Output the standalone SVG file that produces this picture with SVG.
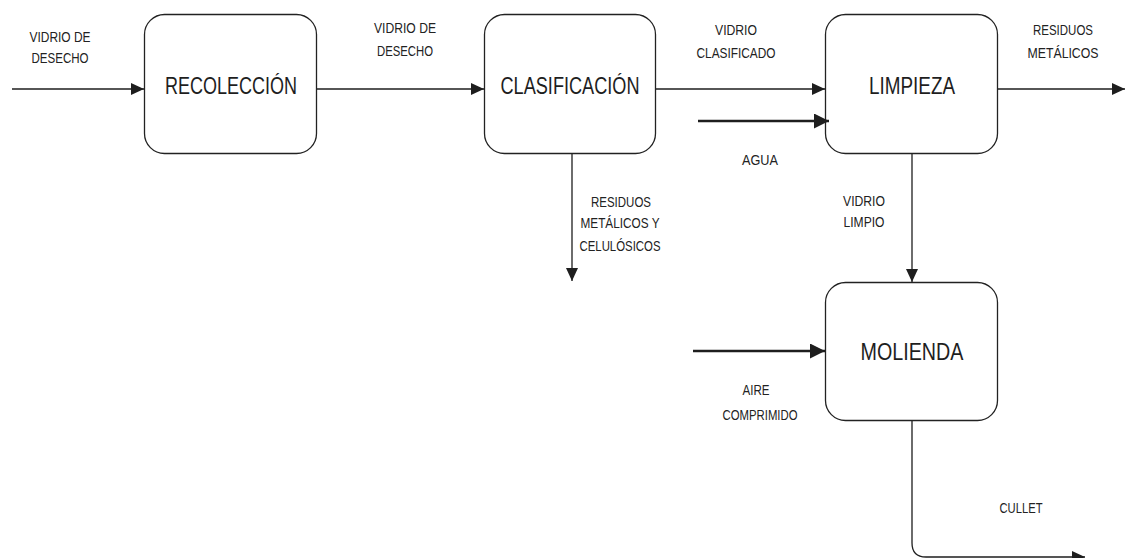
<svg xmlns="http://www.w3.org/2000/svg" width="1125" height="558" viewBox="0 0 1125 558">
<style>
.box{fill:#fff;stroke:#222;stroke-width:1.3}
.big{font-family:"Liberation Sans Narrow","Liberation Sans",Arial,sans-serif;font-size:24px;fill:#1e1e1e;text-anchor:middle}
.lbl{font-family:"Liberation Sans Narrow","Liberation Sans",Arial,sans-serif;font-size:15px;fill:#222;text-anchor:middle}
.ln{fill:none;stroke:#1e1e1e;stroke-width:1.3}
.thk{fill:none;stroke:#1e1e1e;stroke-width:2.6}
</style>
<defs>
<marker id="a" markerUnits="userSpaceOnUse" markerWidth="14" markerHeight="12" refX="13" refY="6" orient="auto"><path d="M0,0 L13,6 L0,12 Z" fill="#1e1e1e"/></marker>
<marker id="b" markerUnits="userSpaceOnUse" markerWidth="16" markerHeight="16" refX="15" refY="7.5" orient="auto"><path d="M0,0 L15,7.5 L0,15 Z" fill="#1e1e1e"/></marker>
</defs>
<g id="recoleccion"><rect class="box" x="144.5" y="14.5" width="172" height="139" rx="20"/><text class="big" x="231" y="94" textLength="132" lengthAdjust="spacingAndGlyphs">RECOLECCIÓN</text></g>
<g id="clasificacion"><rect class="box" x="484.5" y="14.5" width="171" height="139" rx="20"/><text class="big" x="570" y="94" textLength="139" lengthAdjust="spacingAndGlyphs">CLASIFICACIÓN</text></g>
<g id="limpieza"><rect class="box" x="825.5" y="14.5" width="172" height="139" rx="20"/><text class="big" x="912" y="94" textLength="86" lengthAdjust="spacingAndGlyphs">LIMPIEZA</text></g>
<g id="molienda"><rect class="box" x="825.5" y="282.5" width="172" height="138" rx="20"/><text class="big" x="912" y="360" textLength="103" lengthAdjust="spacingAndGlyphs">MOLIENDA</text></g>
<g id="connectors">
<path class="ln" d="M12,89 H144" marker-end="url(#a)"/>
<path class="ln" d="M317,89 H484" marker-end="url(#a)"/>
<path class="ln" d="M656,89 H825" marker-end="url(#a)"/>
<path class="thk" d="M698,121 H829" marker-end="url(#b)"/>
<path class="ln" d="M998,89 H1125" marker-end="url(#a)"/>
<path class="ln" d="M572,154 V281" marker-end="url(#a)"/>
<path class="ln" d="M912,154 V282" marker-end="url(#a)"/>
<path class="thk" d="M693,351 H825" marker-end="url(#b)"/>
<path class="ln" d="M912,421 V543 Q912,557 926,557 H1085" marker-end="url(#a)"/>
</g>
<g id="labels">
<text class="lbl" x="60" y="42" textLength="61" lengthAdjust="spacingAndGlyphs">VIDRIO DE</text><text class="lbl" x="60" y="63" textLength="57" lengthAdjust="spacingAndGlyphs">DESECHO</text>
<text class="lbl" x="405" y="33" textLength="62" lengthAdjust="spacingAndGlyphs">VIDRIO DE</text><text class="lbl" x="405" y="56" textLength="56" lengthAdjust="spacingAndGlyphs">DESECHO</text>
<text class="lbl" x="736" y="35" textLength="42" lengthAdjust="spacingAndGlyphs">VIDRIO</text><text class="lbl" x="736" y="58" textLength="79" lengthAdjust="spacingAndGlyphs">CLASIFICADO</text>
<text class="lbl" x="1063" y="35" textLength="60" lengthAdjust="spacingAndGlyphs">RESIDUOS</text><text class="lbl" x="1063" y="58" textLength="71" lengthAdjust="spacingAndGlyphs">METÁLICOS</text>
<text class="lbl" x="760" y="165" textLength="36" lengthAdjust="spacingAndGlyphs">AGUA</text>
<text class="lbl" x="621" y="207" textLength="60" lengthAdjust="spacingAndGlyphs">RESIDUOS</text><text class="lbl" x="620" y="228" textLength="79" lengthAdjust="spacingAndGlyphs">METÁLICOS Y</text><text class="lbl" x="620" y="251" textLength="81" lengthAdjust="spacingAndGlyphs">CELULÓSICOS</text>
<text class="lbl" x="864" y="206" textLength="42" lengthAdjust="spacingAndGlyphs">VIDRIO</text><text class="lbl" x="864" y="227" textLength="41" lengthAdjust="spacingAndGlyphs">LIMPIO</text>
<text class="lbl" x="756" y="395" textLength="27" lengthAdjust="spacingAndGlyphs">AIRE</text><text class="lbl" x="760" y="420" textLength="75" lengthAdjust="spacingAndGlyphs">COMPRIMIDO</text>
<text class="lbl" x="1021" y="513" textLength="43" lengthAdjust="spacingAndGlyphs">CULLET</text>
</g>
</svg>
